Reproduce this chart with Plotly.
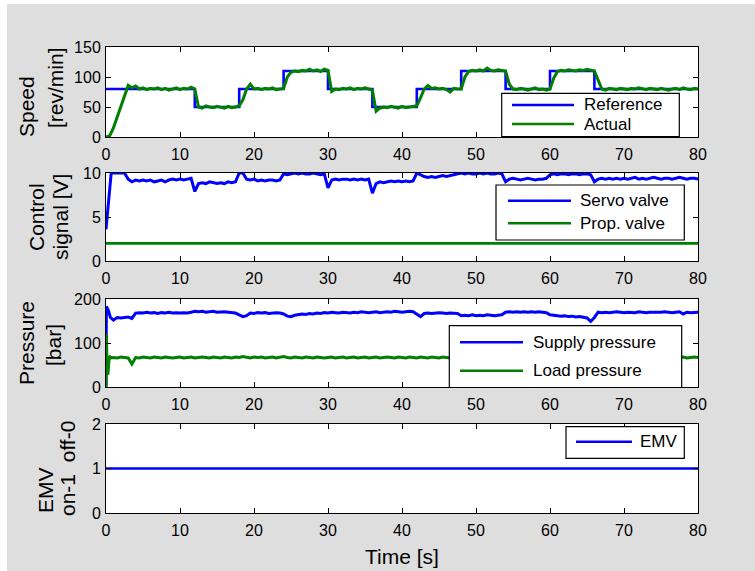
import numpy as np
import plotly.graph_objects as go

# ---------------- data ----------------
# main sampling grid (s) used for the noisy measured signals: 1.0 .. 80.0 every 0.5 s
t_main = np.arange(1.0, 80.001, 0.5)

# Speed reference (step changes), rev/min
ref_t = [0, 12, 18, 24, 30, 36, 42, 48, 54, 60, 66, 80]
ref_v = [80, 50, 80, 110, 80, 50, 80, 110, 80, 110, 80, 80]

# Actual speed, rev/min
speed_start_t = [0.0, 0.5]
speed_start_v = [0, 2]
speed_main = [
    15, 33, 50, 66, 86, 82, 85, 80, 82, 79,
    81, 80, 82, 79, 81, 78, 80, 82, 79, 81,
    80, 83, 80, 50, 48, 52, 50, 49, 51, 50,
    48, 51, 49, 50, 52, 62, 80, 88, 80, 81,
    79, 81, 80, 82, 79, 80, 81, 100, 108, 110,
    109, 111, 110, 113, 110, 112, 109, 113, 111, 76,
    80, 79, 81, 80, 82, 79, 81, 80, 82, 80,
    78, 43, 48, 50, 49, 51, 50, 48, 51, 49,
    50, 51, 52, 65, 80, 86, 81, 82, 80, 81,
    79, 75, 81, 80, 80, 100, 109, 111, 110, 112,
    110, 115, 111, 110, 112, 111, 110, 88, 80, 79,
    81, 80, 78, 80, 82, 79, 80, 78, 80, 98,
    109, 111, 110, 112, 111, 110, 112, 111, 113, 111,
    110, 95, 80, 78, 81, 80, 79, 81, 80, 79,
    81, 80, 82, 80, 79, 81, 80, 79, 81, 80,
    78, 80, 81, 79, 82, 80, 79, 81, 80,
]

# Control signals, V
servo_start_t = [0.0, 0.25, 0.5, 0.7]
servo_start_v = [3.6, 6.0, 9.0, 10.0]
servo_main = [
    10, 10, 10, 10, 9.3, 9.0, 9.2, 9.1, 9.2, 9.1,
    9.2, 9.0, 9.1, 9.2, 9.0, 9.2, 9.3, 9.2, 9.3, 9.2,
    9.3, 9.4, 7.9, 8.8, 8.9, 8.8, 9.0, 8.9, 8.8, 8.9,
    8.8, 9.0, 8.9, 9.0, 10, 10, 9.3, 9.2, 9.3, 9.1,
    9.2, 9.1, 9.2, 9.2, 9.1, 9.2, 9.9, 9.8, 9.9, 10,
    9.9, 10, 9.9, 9.9, 10, 9.9, 9.8, 9.9, 8.3, 9.2,
    9.3, 9.2, 9.3, 9.3, 9.2, 9.3, 9.2, 9.3, 9.2, 9.3,
    7.7, 8.8, 9.0, 8.9, 9.0, 9.1, 9.0, 9.1, 9.0, 9.1,
    9.0, 9.1, 10, 9.8, 9.6, 9.5, 9.6, 9.5, 9.6, 9.7,
    9.6, 9.7, 9.8, 9.9, 10, 9.9, 10, 9.9, 9.9, 10,
    9.9, 10, 9.9, 9.9, 10, 9.9, 9.0, 9.3, 9.4, 9.3,
    9.2, 9.3, 9.4, 9.3, 9.2, 9.3, 9.3, 9.4, 9.8, 9.9,
    9.8, 9.9, 9.9, 9.8, 9.9, 9.9, 9.8, 9.9, 9.9, 9.8,
    9.0, 9.3, 9.4, 9.3, 9.4, 9.3, 9.4, 9.3, 9.4, 9.3,
    9.4, 9.5, 9.3, 9.4, 9.3, 9.4, 9.5, 9.4, 9.3, 9.4,
    9.4, 9.3, 9.4, 9.5, 9.4, 9.3, 9.4, 9.4, 9.3,
]
prop_t = [0, 80]
prop_v = [2.0, 2.0]

# Pressures, bar
supply_start_t = [0.0, 0.05, 0.3, 0.6]
supply_start_v = [0, 183, 175, 158]
supply_main = [
    152, 158, 157, 158, 159, 156, 168, 169, 168, 170,
    168, 169, 167, 169, 168, 170, 168, 169, 168, 169,
    168, 170, 172, 171, 172, 170, 171, 172, 170, 171,
    171, 170, 169, 168, 164, 160, 162, 168, 167, 169,
    168, 169, 167, 168, 169, 168, 166, 161, 160, 163,
    165, 166, 165, 167, 166, 168, 167, 169, 168, 170,
    169, 168, 170, 169, 168, 170, 169, 171, 170, 169,
    170, 171, 169, 170, 171, 170, 172, 171, 170, 171,
    172, 171, 166, 160, 167, 168, 167, 168, 169, 168,
    167, 168, 168, 167, 162, 163, 162, 164, 162, 163,
    162, 164, 163, 162, 163, 164, 170, 171, 170, 171,
    170, 171, 170, 171, 170, 171, 170, 169, 164, 163,
    162, 161, 162, 160, 161, 159, 160, 158, 157, 149,
    158, 170, 169, 170, 169, 170, 171, 170, 169, 170,
    170, 169, 171, 170, 169, 170, 170, 169, 170, 171,
    170, 169, 170, 171, 166, 170, 169, 170, 170,
]
load_start_t = [0.0, 0.05, 0.12, 0.25, 0.45, 0.7]
load_start_v = [0, 120, 60, 28, 70, 66]
load_main = [
    67, 66, 68, 67, 66, 52, 67, 66, 68, 67,
    66, 68, 67, 66, 68, 67, 66, 67, 68, 66,
    67, 68, 66, 67, 68, 67, 66, 68, 67, 66,
    68, 67, 66, 68, 67, 69, 67, 66, 68, 67,
    68, 66, 67, 68, 66, 67, 69, 67, 66, 68,
    67, 66, 68, 67, 66, 68, 67, 66, 67, 68,
    66, 67, 68, 66, 67, 68, 66, 67, 68, 66,
    67, 68, 66, 67, 68, 67, 66, 68, 67, 66,
    68, 67, 66, 68, 67, 66, 68, 67, 66, 68,
    67, 66, 68, 67, 66, 68, 67, 66, 68, 67,
    66, 68, 67, 66, 67, 68, 66, 67, 68, 67,
    66, 67, 68, 66, 67, 68, 67, 66, 68, 67,
    68, 66, 67, 68, 67, 66, 68, 67, 66, 68,
    67, 66, 68, 67, 68, 66, 67, 68, 67, 66,
    68, 67, 66, 68, 67, 66, 68, 67, 66, 68,
    67, 68, 66, 67, 68, 66, 67, 68, 67,
]

# EMV state
emv_t = [0, 80]
emv_v = [1, 1]

x_ticks = [0, 10, 20, 30, 40, 50, 60, 70, 80]
y_ticks = [[0, 50, 100, 150], [0, 5, 10], [0, 100, 200], [0, 1, 2]]
y_ranges = [[0, 150], [0, 10], [0, 200], [0, 2]]

# ---------------- figure ----------------
W, H = 755, 571
L, R, T, B = 106, 698, 47, 513
BLUE, GREEN = "#0000ff", "#008000"
FONT = "Liberation Sans, Arial, Helvetica, sans-serif"
LW = 2.6
LW_NOISY = 3.0


def X(px):
    return (px - L) / (R - L)


def Y(py):
    return (B - py) / (B - T)


# panel extents in pixels (top, bottom)
panels = [(47, 137), (173, 261), (299, 387), (424, 513)]

fig = go.Figure()


def add(tx, ty, color, k, name, width=LW, shape="linear"):
    fig.add_trace(go.Scatter(
        x=tx, y=ty, mode="lines", name=name, showlegend=False,
        line=dict(color=color, width=width, shape=shape),
        xaxis="x" if k == 1 else f"x{k}", yaxis="y" if k == 1 else f"y{k}",
    ))


add(ref_t, ref_v, BLUE, 1, "Reference", shape="hv")
add(list(speed_start_t) + list(t_main), list(speed_start_v) + speed_main, GREEN, 1, "Actual", LW_NOISY)
add(list(servo_start_t) + list(t_main), list(servo_start_v) + servo_main, BLUE, 2, "Servo valve", LW_NOISY)
add(prop_t, prop_v, GREEN, 2, "Prop. valve")
add(list(supply_start_t) + list(t_main), list(supply_start_v) + supply_main, BLUE, 3, "Supply pressure", LW_NOISY)
add(list(load_start_t) + list(t_main), list(load_start_v) + load_main, GREEN, 3, "Load pressure", LW_NOISY)
add(emv_t, emv_v, BLUE, 4, "EMV")

layout = dict(
    width=W, height=H,
    margin=dict(l=L, r=W - R, t=T, b=H - B, pad=0),
    paper_bgcolor="#dedede", plot_bgcolor="white",
    font=dict(family=FONT, size=16, color="black"),
    showlegend=False,
)

axis_common = dict(
    showline=True, linecolor="black", linewidth=1, mirror="ticks",
    ticks="inside", ticklen=5, tickwidth=1, tickcolor="black",
    showgrid=False, zeroline=False, tickfont=dict(family=FONT, size=16, color="black"),
)

for i, (pt, pb) in enumerate(panels):
    k = i + 1
    xn = "xaxis" if k == 1 else f"xaxis{k}"
    yn = "yaxis" if k == 1 else f"yaxis{k}"
    layout[xn] = dict(axis_common, domain=[0, 1], range=[0, 80], tickvals=x_ticks,
                      ticklabelstandoff=3, anchor="y" if k == 1 else f"y{k}")
    layout[yn] = dict(axis_common, domain=[Y(pb), Y(pt)], range=y_ranges[i], tickvals=y_ticks[i],
                      ticklabelstandoff=1, anchor="x" if k == 1 else f"x{k}")

fig.update_layout(**layout)

shapes = []
annotations = []

# axis titles (two rotated lines each)
ylabels = [
    ("Speed", 26, 107), ("[rev/min]", 55, 88),
    ("Control", 36, 217), ("signal [V]", 60, 217),
    ("Pressure", 26, 343), ("[bar]", 53, 345),
    ("EMV", 45, 490), ("on-1  off-0", 67, 469),
]
for txt, px, py in ylabels:
    annotations.append(dict(text=txt, x=X(px), y=Y(py), xref="paper", yref="paper",
                            xanchor="center", yanchor="middle", textangle=-90,
                            showarrow=False, font=dict(family=FONT, size=21, color="black")))
annotations.append(dict(text="Time [s]", x=X(402), y=Y(556), xref="paper", yref="paper",
                        xanchor="center", yanchor="middle", showarrow=False,
                        font=dict(family=FONT, size=21, color="black")))

# manual legends: (box x0, x1, y0, y1, sample x0, x1, text x, entries[(label, color, y)])
legends = [
    (501.7, 679.3, 93.3, 136.5, 512, 574, 582,
     [("Reference", BLUE, 105), ("Actual", GREEN, 124)]),
    (496, 684.3, 185, 240, 508, 571, 578,
     [("Servo valve", BLUE, 200.7), ("Prop. valve", GREEN, 223.3)]),
    (449.3, 681.7, 325.7, 387.5, 460, 523, 531,
     [("Supply pressure", BLUE, 342.3), ("Load pressure", GREEN, 370.7)]),
    (566, 684.3, 426.7, 458.3, 576, 632, 638,
     [("EMV", BLUE, 441.7)]),
]
for bx0, bx1, by0, by1, sx0, sx1, tx, entries in legends:
    shapes.append(dict(type="rect", xref="paper", yref="paper",
                       x0=X(bx0), x1=X(bx1), y0=Y(by1), y1=Y(by0),
                       line=dict(color="black", width=1.2), fillcolor="white", layer="above"))
    for label, col, ly in entries:
        shapes.append(dict(type="line", xref="paper", yref="paper",
                           x0=X(sx0), x1=X(sx1), y0=Y(ly), y1=Y(ly),
                           line=dict(color=col, width=LW), layer="above"))
        annotations.append(dict(text=label, x=X(tx), y=Y(ly), xref="paper", yref="paper",
                                xanchor="left", yanchor="middle", showarrow=False,
                                font=dict(family=FONT, size=17, color="black")))

# white page border at the left and top of the grey figure
shapes.append(dict(type="rect", xref="paper", yref="paper", x0=X(0), x1=X(7), y0=Y(H), y1=Y(0),
                   line=dict(width=0), fillcolor="white", layer="above"))
shapes.append(dict(type="rect", xref="paper", yref="paper", x0=X(0), x1=X(W), y0=Y(4), y1=Y(0),
                   line=dict(width=0), fillcolor="white", layer="above"))

fig.update_layout(shapes=shapes, annotations=annotations)

fig.write_html("out.html")
